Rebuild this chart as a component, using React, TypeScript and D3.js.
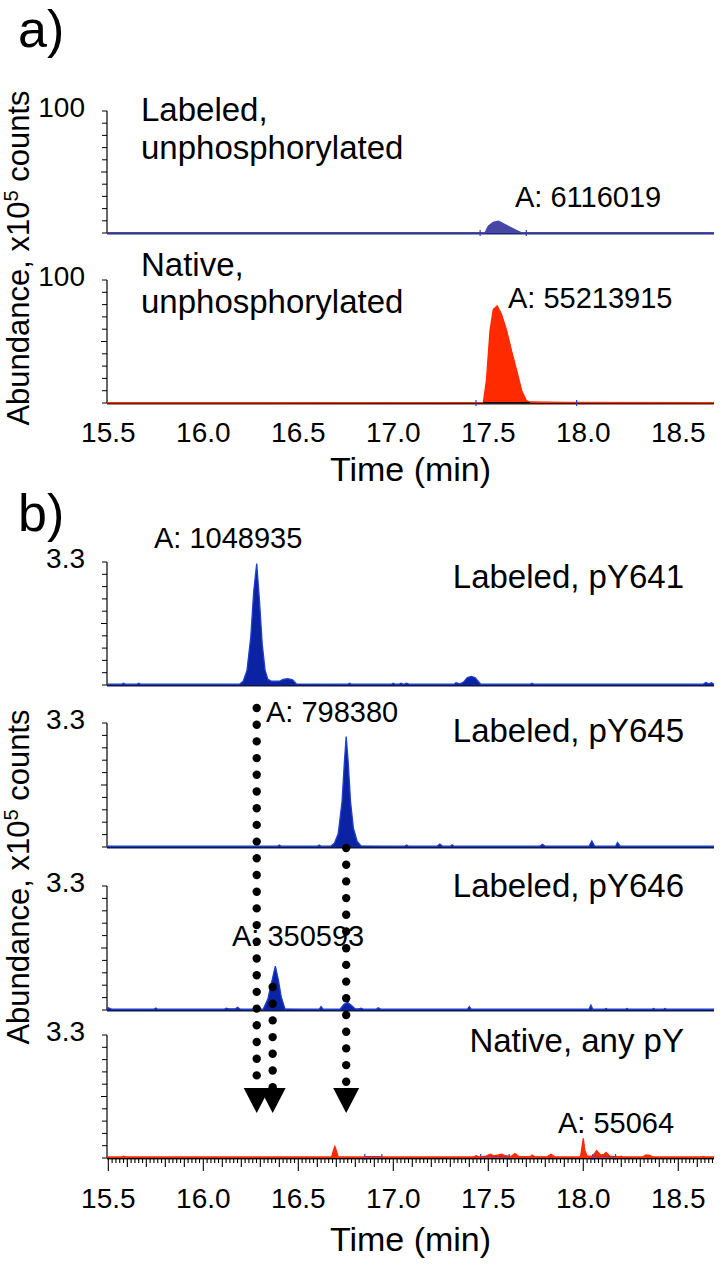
import React from "react";
import * as d3 from "d3";

const W = 726;
const H = 1266;
const FONT = "'Liberation Sans', Arial, Helvetica, sans-serif";

// ---------- data ----------
const xTickValues = [15.5, 16.0, 16.5, 17.0, 17.5, 18.0, 18.5];
const xTickLabels = ["15.5", "16.0", "16.5", "17.0", "17.5", "18.0", "18.5"];
const xDomain: [number, number] = [15.493, 18.688];

// panel a (units x10^5 counts, full scale 100)
const labeledUnphos: [number, number][] = [
  [15.493, 0.2], [17.483, 0.2], [17.5, 5.5], [17.526, 8.7], [17.553, 9.6], [17.588, 6.9],
  [17.623, 4.1], [17.658, 1.4], [17.676, 0.2], [18.688, 0.2],
];
const nativeUnphos: [number, number][] = [
  [15.493, 0.3], [17.474, 0.5], [17.49, 18], [17.509, 58.7], [17.526, 76], [17.547, 79],
  [17.57, 72], [17.597, 58.7], [17.623, 42], [17.65, 26], [17.676, 10], [17.7, 2],
  [17.72, 0.8], [17.9, 0.5], [18.688, 0.3],
];
const labeledUnphosArea = "A: 6116019";
const nativeUnphosArea = "A: 55213915";
const labeledUnphosWindow = [17.457, 17.70];
const nativeUnphosWindow = [17.435, 17.965];

// panel b (units x10^5 counts, full scale 3.3)
const pY641: [number, number][] = [
  [15.493, 0.02], [15.57, 0.02], [15.58, 0.05], [15.59, 0.02], [15.65, 0.02], [15.66, 0.05], [15.67, 0.02],
  [16.19, 0.02], [16.21, 0.1], [16.23, 0.4], [16.25, 1.3], [16.265, 2.5], [16.281, 3.26], [16.295, 2.3],
  [16.31, 1.1], [16.325, 0.4], [16.34, 0.15], [16.36, 0.1], [16.4, 0.1], [16.42, 0.15], [16.445, 0.17],
  [16.47, 0.14], [16.49, 0.03], [16.76, 0.02], [16.77, 0.05], [16.78, 0.02], [16.99, 0.02], [17.0, 0.05],
  [17.01, 0.02], [17.03, 0.02], [17.04, 0.05], [17.055, 0.02], [17.07, 0.05], [17.085, 0.02], [17.32, 0.02],
  [17.33, 0.06], [17.35, 0.03], [17.37, 0.08], [17.39, 0.2], [17.41, 0.23], [17.43, 0.2], [17.45, 0.08],
  [17.46, 0.02], [17.72, 0.02], [17.73, 0.05], [17.74, 0.02], [18.63, 0.02], [18.645, 0.07], [18.66, 0.03],
  [18.675, 0.06], [18.688, 0.02],
];
const pY645: [number, number][] = [
  [15.493, 0.02], [16.39, 0.02], [16.4, 0.05], [16.41, 0.02], [16.6, 0.02], [16.61, 0.05], [16.62, 0.02],
  [16.67, 0.02], [16.69, 0.1], [16.71, 0.35], [16.73, 1.2], [16.743, 2.3], [16.752, 2.94], [16.762, 2.3],
  [16.775, 1.2], [16.79, 0.5], [16.81, 0.15], [16.83, 0.03], [17.06, 0.02], [17.07, 0.05], [17.08, 0.02],
  [17.23, 0.02], [17.245, 0.08], [17.26, 0.02], [17.3, 0.02], [17.31, 0.06], [17.32, 0.02], [17.77, 0.02],
  [17.785, 0.07], [17.8, 0.02], [18.03, 0.02], [18.045, 0.16], [18.06, 0.02], [18.17, 0.02], [18.18, 0.12],
  [18.195, 0.02], [18.688, 0.02],
];
const pY646: [number, number][] = [
  [15.493, 0.02], [15.5, 0.06], [15.52, 0.02], [15.74, 0.02], [15.75, 0.05], [15.76, 0.02], [16.11, 0.02],
  [16.12, 0.05], [16.135, 0.03], [16.17, 0.03], [16.18, 0.07], [16.195, 0.02], [16.315, 0.02], [16.34, 0.3],
  [16.36, 0.75], [16.379, 1.17], [16.395, 0.8], [16.41, 0.35], [16.43, 0.03], [16.61, 0.02], [16.62, 0.09],
  [16.63, 0.02], [16.72, 0.02], [16.74, 0.15], [16.76, 0.2], [16.78, 0.12], [16.8, 0.03], [16.82, 0.03],
  [16.83, 0.05], [16.845, 0.02], [16.91, 0.02], [16.92, 0.06], [16.935, 0.02], [17.39, 0.02], [17.4, 0.09],
  [17.41, 0.02], [18.03, 0.02], [18.04, 0.13], [18.05, 0.02], [18.11, 0.02], [18.12, 0.04], [18.13, 0.02],
  [18.22, 0.02], [18.23, 0.04], [18.24, 0.02], [18.36, 0.02], [18.37, 0.04], [18.38, 0.02], [18.42, 0.02],
  [18.43, 0.04], [18.44, 0.02], [18.688, 0.02],
];
const nativeAnyPY: [number, number][] = [
  [15.493, 0.02], [15.57, 0.02], [15.58, 0.05], [15.6, 0.02], [16.675, 0.02], [16.685, 0.2], [16.692, 0.31],
  [16.7, 0.2], [16.71, 0.02], [17.42, 0.02], [17.435, 0.06], [17.45, 0.03], [17.49, 0.05], [17.51, 0.1],
  [17.53, 0.06], [17.55, 0.08], [17.57, 0.1], [17.59, 0.06], [17.62, 0.04], [17.64, 0.12], [17.66, 0.04],
  [17.72, 0.03], [17.73, 0.08], [17.745, 0.03], [17.81, 0.03], [17.83, 0.1], [17.85, 0.03], [17.985, 0.02],
  [17.995, 0.35], [18.0, 0.53], [18.008, 0.2], [18.02, 0.05], [18.05, 0.05], [18.07, 0.2], [18.09, 0.08],
  [18.11, 0.1], [18.12, 0.15], [18.14, 0.05], [18.19, 0.03], [18.2, 0.05], [18.21, 0.02], [18.31, 0.02],
  [18.33, 0.08], [18.35, 0.07], [18.37, 0.02], [18.62, 0.02], [18.63, 0.04], [18.645, 0.02], [18.688, 0.02],
];
const nativeAnyPYWindows = [[16.85, 16.94], [17.46, 17.61], [18.05, 18.17]];
const areaLabelsB = ["A: 1048935", "A: 798380", "A: 350593", "A: 55064"];
const panelNamesB = ["Labeled, pY641", "Labeled, pY645", "Labeled, pY646", "Native, any pY"];
const arrowTimes = [16.281, 16.365, 16.752];

// ---------- layout ----------
const X0 = 107;
const X1 = 714;
const x = d3.scaleLinear().domain(xDomain).range([X0, X1]);

const BLUE_A = "#4646a6";
const BLUE_A_LINE = "#1e2a70";
const BLUE_B = "#0b22a2";
const RED = "#ff2a00";

type PanelProps = {
  top: number;
  base: number;
  max: number;
  topLabel: string;
  data: [number, number][];
  fill: string;
  line: string;
  axisColor: string;
};

function Panel({ top, base, max, topLabel, data, fill, line, axisColor }: PanelProps) {
  const y = d3.scaleLinear().domain([0, max]).range([base, top]);
  const ticks = d3.range(0, 11).map((i) => (i * max) / 10);
  const area = d3
    .area<[number, number]>()
    .x((d) => x(d[0]))
    .y0(base)
    .y1((d) => y(d[1]));
  const ln = d3
    .line<[number, number]>()
    .x((d) => x(d[0]))
    .y((d) => y(d[1]));
  return (
    <g>
      <line x1={X0} x2={X0} y1={top} y2={base} stroke="#000" strokeWidth={1.2} />
      {ticks.map((t, i) => (
        <line key={i} x1={X0 - (i === 5 ? 6 : 5)} x2={X0} y1={y(t)} y2={y(t)} stroke="#000" strokeWidth={1} />
      ))}
      <text x={85} y={y(max) + 6} fontSize={28} textAnchor="end" fontFamily={FONT}>
        {topLabel}
      </text>
      <line x1={X0} x2={X1} y1={base + 0.5} y2={base + 0.5} stroke={axisColor} strokeWidth={2.2} />
      <path d={area(data) || ""} fill={fill} />
      <path d={ln(data) || ""} fill="none" stroke={line} strokeWidth={1.3} />
    </g>
  );
}

function WindowMarks({ base, win, color }: { base: number; win: number[]; color: string }) {
  return (
    <g>
      {win.map((t, i) => (
        <line key={i} x1={x(t)} x2={x(t)} y1={base - 3} y2={base + 3} stroke={color} strokeWidth={1.2} />
      ))}
    </g>
  );
}

export default function App() {
  // panel a geometry
  const a1 = { top: 111, base: 233 };
  const a2 = { top: 280, base: 403 };
  // panel b geometry
  const bPanels = [
    { top: 562, base: 685 },
    { top: 723, base: 847 },
    { top: 886, base: 1010 },
    { top: 1035, base: 1158 },
  ];
  const bData = [pY641, pY645, pY646, nativeAnyPY];
  const bAreaPos = [
    { x: 154, y: 548 },
    { x: 266, y: 722 },
    { x: 232, y: 946 },
    { x: 558, y: 1133 },
  ];
  const bNameY = [588, 742, 897, 1052];

  const minorTicks = d3.range(0, 160).map((i) => 15.5 + i * 0.02).filter((t) => t <= xDomain[1]);
  const bBase = bPanels[3].base;

  const arrowStarts = [708, 987, 848];
  const arrowHeadTop = 1088;
  const arrowTip = 1113;

  return (
    <svg width={W} height={H} style={{ display: "block", position: "absolute", left: 0, top: 0, background: "#fff" }}>
      <rect x={0} y={0} width={W} height={H} fill="#fff" />
      {/* ---------- a) ---------- */}
      <text x={18} y={47} fontSize={52} fontFamily={FONT}>a)</text>
      <text
        transform="translate(29,258) rotate(-90)"
        fontSize={31}
        textAnchor="middle"
        fontFamily={FONT}
      >
        Abundance, x10
        <tspan dy={-11} fontSize={20}>5</tspan>
        <tspan dy={11}> counts</tspan>
      </text>

      <Panel {...a1} max={100} topLabel="100" data={labeledUnphos} fill={BLUE_A} line={BLUE_A} axisColor={BLUE_A_LINE} />
      <WindowMarks base={a1.base} win={labeledUnphosWindow} color="#2a3cd0" />
      <text x={141} y={121} fontSize={33} fontFamily={FONT}>Labeled,</text>
      <text x={141} y={159} fontSize={33} fontFamily={FONT}>unphosphorylated</text>
      <text x={515} y={207} fontSize={29} fontFamily={FONT}>{labeledUnphosArea}</text>

      <Panel {...a2} max={100} topLabel="100" data={nativeUnphos} fill={RED} line={RED} axisColor="#3a1a10" />
      <line x1={x(17.474)} x2={x(17.72)} y1={a2.base - 0.5} y2={a2.base - 0.5} stroke="#000" strokeWidth={1} />
      <WindowMarks base={a2.base} win={nativeUnphosWindow} color="#2a3cd0" />
      <text x={141} y={276} fontSize={33} fontFamily={FONT}>Native,</text>
      <text x={141} y={313} fontSize={33} fontFamily={FONT}>unphosphorylated</text>
      <text x={508} y={308} fontSize={29} fontFamily={FONT}>{nativeUnphosArea}</text>

      {xTickValues.map((t, i) => (
        <text key={i} x={x(t)} y={442} fontSize={28} textAnchor="middle" fontFamily={FONT}>
          {xTickLabels[i]}
        </text>
      ))}
      <text x={(X0 + X1) / 2} y={481} fontSize={34} textAnchor="middle" fontFamily={FONT}>Time (min)</text>

      {/* ---------- b) ---------- */}
      <text x={18} y={531} fontSize={52} fontFamily={FONT}>b)</text>
      <text
        transform="translate(29,877) rotate(-90)"
        fontSize={31}
        textAnchor="middle"
        fontFamily={FONT}
      >
        Abundance, x10
        <tspan dy={-11} fontSize={20}>5</tspan>
        <tspan dy={11}> counts</tspan>
      </text>

      {bPanels.map((p, i) => (
        <g key={i}>
          <Panel
            {...p}
            max={3.3}
            topLabel="3.3"
            data={bData[i]}
            fill={i === 3 ? RED : BLUE_B}
            line={i === 3 ? RED : "#1f3fd0"}
            axisColor={i === 3 ? "#5a2a20" : "#101840"}
          />
          <text x={bAreaPos[i].x} y={bAreaPos[i].y} fontSize={29} fontFamily={FONT}>{areaLabelsB[i]}</text>
          <text x={684} y={bNameY[i]} fontSize={33} textAnchor="end" fontFamily={FONT}>{panelNamesB[i]}</text>
        </g>
      ))}

      {nativeAnyPYWindows.map((w, i) => (
        <g key={i}>
          <line x1={x(w[0])} x2={x(w[1])} y1={bBase - 1} y2={bBase - 1} stroke="#2040e0" strokeWidth={2} />
          <line x1={x(w[0])} x2={x(w[0])} y1={bBase - 4} y2={bBase + 2} stroke="#2040e0" strokeWidth={1.2} />
          <line x1={x(w[1])} x2={x(w[1])} y1={bBase - 4} y2={bBase + 2} stroke="#2040e0" strokeWidth={1.2} />
        </g>
      ))}

      {/* bottom x axis ticks */}
      {minorTicks.map((t, i) => {
        const isMajor = i % 25 === 0;
        const isMid = i % 5 === 0;
        const len = isMajor ? 13 : isMid ? 9 : 5;
        return <line key={i} x1={x(t)} x2={x(t)} y1={bBase} y2={bBase + len} stroke="#000" strokeWidth={1.1} />;
      })}
      <line x1={X0} x2={X1} y1={bBase + 0.5} y2={bBase + 0.5} stroke="#000" strokeWidth={1.2} />
      <line x1={X0} x2={X1} y1={bBase - 0.8} y2={bBase - 0.8} stroke={RED} strokeWidth={1.4} />
      {xTickValues.map((t, i) => (
        <text key={i} x={x(t)} y={1208} fontSize={28} textAnchor="middle" fontFamily={FONT}>
          {xTickLabels[i]}
        </text>
      ))}
      <text x={(X0 + X1) / 2} y={1251} fontSize={34} textAnchor="middle" fontFamily={FONT}>Time (min)</text>

      {/* dotted arrows */}
      {arrowTimes.map((t, i) => {
        const cx = x(t);
        const dots = d3.range(arrowStarts[i], arrowHeadTop, 16.7);
        return (
          <g key={i}>
            {dots.map((cy, j) => (
              <circle key={j} cx={cx} cy={cy} r={4.2} fill="#000" />
            ))}
            <polygon
              points={`${cx - 13},${arrowHeadTop} ${cx + 13},${arrowHeadTop} ${cx},${arrowTip}`}
              fill="#000"
            />
          </g>
        );
      })}
    </svg>
  );
}
